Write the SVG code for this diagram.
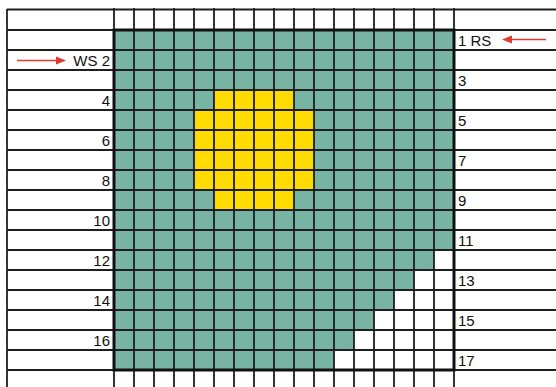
<svg xmlns="http://www.w3.org/2000/svg" width="556" height="387" viewBox="0 0 556 387">
<style>
.g{stroke:#1e1e1e;stroke-width:1.8;fill:none}
.b{stroke:#111;stroke-width:3;fill:none}
.t{font-family:"Liberation Sans",Arial,sans-serif;font-size:15px;fill:#111}
.l{text-anchor:end}
.ar{stroke:#e23a33;stroke-width:1.6;fill:none}
.ah{fill:#e23a33}
</style>
<rect width="556" height="387" fill="#fff"/>
<g id="cells">
<rect x="114" y="30" width="340" height="340" fill="#77b4a3"/>
<path d="M214 90H294V110H314V190H294V210H214V190H194V110H214Z" fill="#ffdb00"/>
<path d="M434 250H454V370H334V350H354V330H374V310H394V290H414V270H434Z" fill="#fff"/>
</g>
<g id="grid" class="g">
<path d="M7 9.5H556M7 30H556M7 50H556M7 70H556M7 90H556M7 110H556M7 130H556M7 150H556M7 170H556M7 190H556M7 210H556M7 230H556M7 250H556M7 270H556M7 290H556M7 310H556M7 330H556M7 350H556M7 370H556"/>
<path d="M7 9V387M114 8V387M134 8V387M154 8V387M174 8V387M194 8V387M214 8V387M234 8V387M254 8V387M274 8V387M294 8V387M314 8V387M334 8V387M354 8V387M374 8V387M394 8V387M414 8V387M434 8V387M454 8V387"/>
</g>
<rect class="b" x="114" y="30" width="340" height="340"/>
<g id="labels-left" class="t l">
<text x="110" y="66">WS 2</text>
<text x="110" y="106">4</text>
<text x="110" y="146">6</text>
<text x="110" y="186">8</text>
<text x="110" y="226">10</text>
<text x="110" y="266">12</text>
<text x="110" y="306">14</text>
<text x="110" y="346">16</text>
</g>
<g id="labels-right" class="t">
<text x="458" y="46">1 RS</text>
<text x="458" y="86">3</text>
<text x="458" y="126">5</text>
<text x="458" y="166">7</text>
<text x="458" y="206">9</text>
<text x="458" y="246">11</text>
<text x="458" y="286">13</text>
<text x="458" y="326">15</text>
<text x="458" y="366">17</text>
</g>
<g id="connectors">
<path class="ar" d="M17 60.5H58"/>
<path class="ah" d="M66 60.5L56 56.5V64.5Z"/>
<path class="ar" d="M546 39.5H510"/>
<path class="ah" d="M502 39.5L512 35.5V43.5Z"/>
</g>
</svg>
